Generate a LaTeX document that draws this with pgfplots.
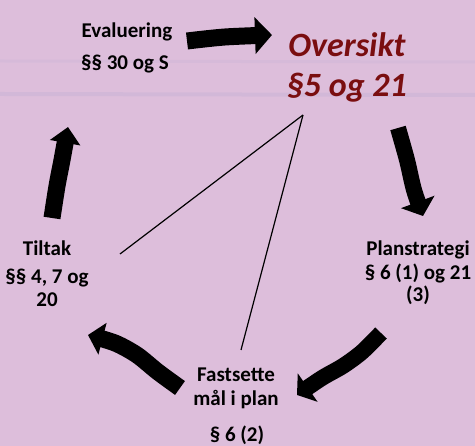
\documentclass[border=0pt]{standalone}
\usepackage{pgfplots}
\pgfplotsset{compat=1.18}
\usepackage{fontspec}
\setmainfont{Carlito}
\usetikzlibrary{arrows.meta}
\definecolor{bgpink}{RGB}{221,190,219}
\definecolor{band}{RGB}{200,180,214}
\definecolor{darkred}{RGB}{122,14,16}

\begin{document}
\begin{tikzpicture}
\begin{axis}[
  width=475pt, height=446pt, scale only axis,
  xmin=0, xmax=475, ymin=0, ymax=446,
  axis lines=none, ticks=none,
  axis background/.style={fill=bgpink},
  clip=false,
]
% faint scan bands
\addplot[band, line width=4pt, opacity=0.5] coordinates {(0,352) (475,351)};
\addplot[band, line width=3pt, opacity=0.3] coordinates {(0,385) (475,384)};

% cycle arrows
\addplot[black, line width=17pt, smooth, -{Triangle[width=36pt,length=17pt]}]
  coordinates {(187,405) (225,409) (272,411)};
\addplot[black, line width=16pt, smooth, -{Triangle[width=35pt,length=15pt]}]
  coordinates {(398,318) (407,286) (414,256) (423,230)};
\addplot[black, line width=16pt, smooth, -{Triangle[width=34pt,length=13pt]}]
  coordinates {(381,113) (362,94) (343,80) (322,68) (297,51)};
\addplot[black, line width=17pt, smooth, -{Triangle[width=32pt,length=15pt]}]
  coordinates {(180,58) (158,74) (137,91) (115,103) (88,111)};
\addplot[black, line width=17pt, smooth, -{Triangle[width=30pt,length=16pt]}]
  coordinates {(52,228) (57,260) (62,286) (68,319)};

% connector lines
\addplot[black, line width=1.2pt] coordinates {(303,331) (120,192)};
\addplot[black, line width=1.2pt] coordinates {(303,331) (241,96)};

\begin{scope}[every node/.style={font=\bfseries\fontsize{21}{23}\selectfont, inner sep=0pt}]
\node at (axis cs:127,414) {Evaluering};
\node at (axis cs:125,382) {§§ 30 og S};
\node at (axis cs:418,196) {Planstrategi};
\node at (axis cs:418,173) {§ 6 (1) og 21};
\node at (axis cs:418,151) {(3)};
\node at (axis cs:47,198) {Tiltak};
\node at (axis cs:47,168) {§§ 4, 7 og};
\node at (axis cs:47,146) {20};
\node at (axis cs:236,71) {Fastsette};
\node at (axis cs:236,46) {mål i plan};
\node at (axis cs:237,11) {§ 6 (2)};
\end{scope}
\node[font=\bfseries\itshape\fontsize{34}{36}\selectfont, text=darkred, inner sep=0pt]
  at (axis cs:347,401) {Oversikt};
\node[font=\bfseries\itshape\fontsize{34}{36}\selectfont, text=darkred, inner sep=0pt]
  at (axis cs:347,358) {§5 og 21};
\end{axis}
\pgfresetboundingbox
\useasboundingbox (current axis.south west) rectangle (current axis.north east);
\end{tikzpicture}
\end{document}
